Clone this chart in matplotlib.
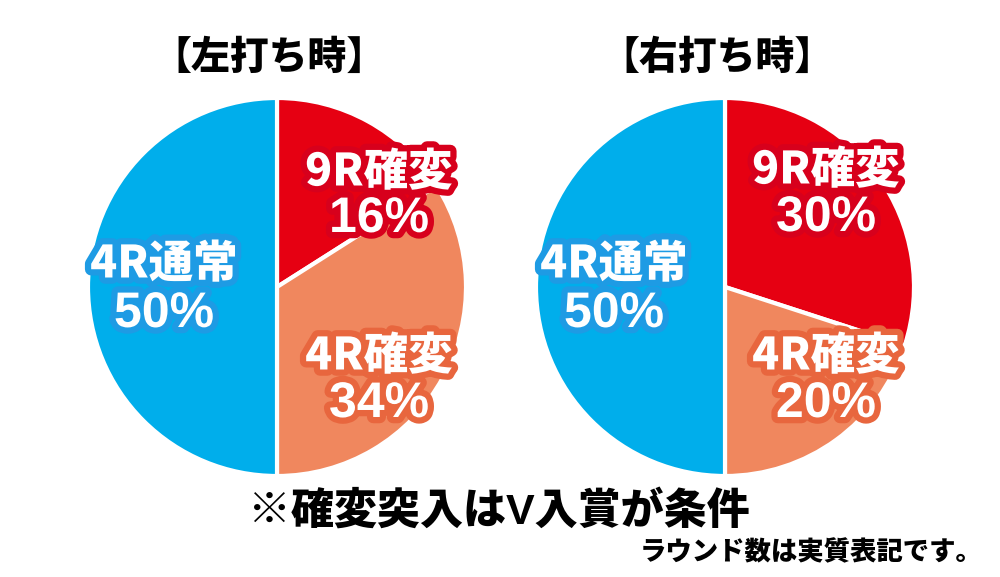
import matplotlib
matplotlib.use("Agg")
import matplotlib.pyplot as plt
import matplotlib.patheffects as pe

plt.rcParams['font.family'] = ['Noto Sans CJK JP', 'DejaVu Sans']
mixed = ['Liberation Sans', 'Noto Sans CJK JP']

# データ
titles = ["【左打ち時】", "【右打ち時】"]
labels = ["9R確変", "4R確変", "4R通常"]
left_vals = [16, 34, 50]
right_vals = [30, 20, 50]
colors = ["#E60012", "#F0875E", "#00AEEB"]
edge_colors = ["#D7001C", "#E8663E", "#1E9BE4"]
note_main = "※確変突入はV入賞が条件"
note_sub = "ラウンド数は実質表記です。"

W, H = 1000, 577
fig = plt.figure(figsize=(10, 5.77), dpi=100)
ax = fig.add_axes([0, 0, 1, 1])

R = 189
centers = [(277, H - 287), (725, H - 287)]
# ラベル位置（ピクセル、上から）: (x, 1行目y, 2行目y)
label_pos = [
    [(379, 172, 219), (379, 356, 404), (164, 264, 314)],
    [(826, 170, 218), (826, 356, 404), (614, 264, 314)],
]

for i, vals in enumerate([left_vals, right_vals]):
    cx, cy = centers[i]
    ax.pie(vals, colors=colors, startangle=90, counterclock=False,
           center=(cx, cy), radius=R, frame=True,
           wedgeprops=dict(edgecolor='white', linewidth=3))
    for j, lab in enumerate(labels):
        x, y1, y2 = label_pos[i][j]
        stroke = [pe.withStroke(linewidth=9, foreground=edge_colors[j])]
        ax.text(x, H - y1, lab, ha='center', va='center',
                fontsize=32, fontweight='heavy', color='white',
                path_effects=stroke)
        ax.text(x, H - y2, f"{vals[j]}%", ha='center', va='center',
                fontsize=36, fontweight='bold', color='white',
                family='Liberation Sans', path_effects=stroke)
    ax.text(cx - 8, H - 57, titles[i], ha='center', va='center',
            fontsize=28, fontweight='heavy', color='black')

ax.set_xlim(0, W)
ax.set_ylim(0, H)
ax.set_aspect('equal')
ax.axis('off')

ax.text(499, H - 512, note_main, ha='center', va='center',
        fontsize=31, fontweight='heavy', color='black', family=mixed)
ax.text(983, H - 552, note_sub, ha='right', va='center',
        fontsize=19, fontweight='heavy', color='black')

fig.savefig("out.png", dpi=100, facecolor='white')
